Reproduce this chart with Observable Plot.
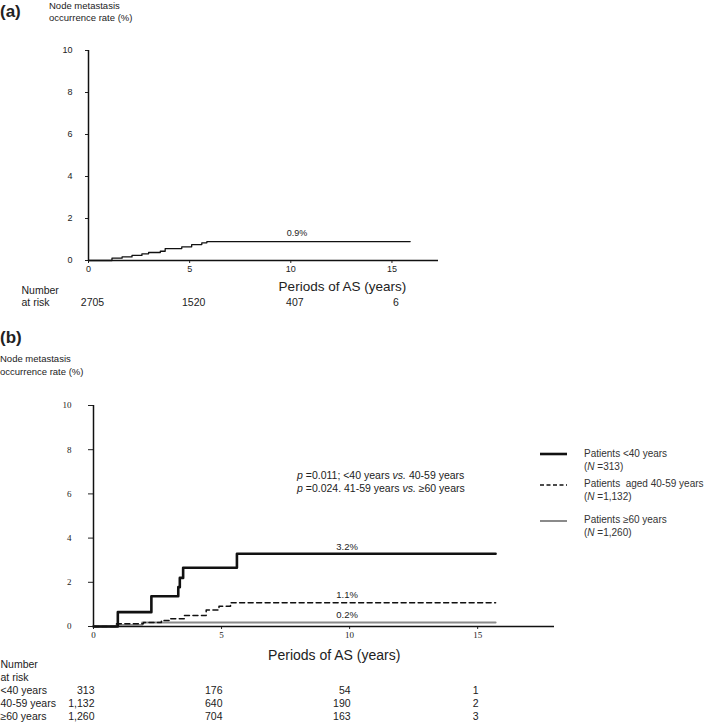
<!DOCTYPE html>
<html><head><meta charset="utf-8">
<script src="https://cdn.jsdelivr.net/npm/d3@7"></script>
<script src="https://cdn.jsdelivr.net/npm/@observablehq/plot@0.6"></script>
<style>
body{margin:0;background:#fff;font-family:Arial,"Liberation Sans",sans-serif;color:#222}
#wrap{position:relative;width:708px;height:726px;overflow:hidden;background:#fff}
.abs{position:absolute;white-space:nowrap;line-height:1}
#panelA{position:absolute;left:0;top:0}
#panelB{position:absolute;left:0;top:318px}
svg{display:block}
</style></head><body><div id="wrap">
<div id="panelA"></div>
<div id="panelB"></div>
<div class="abs" style="left:0;top:3px;font-size:17px;font-weight:bold">(a)</div>
<div class="abs" style="left:49px;top:0px;font-size:9.5px;line-height:12px">Node metastasis<br>occurrence rate (%)</div>
<div class="abs" style="left:0;top:329px;font-size:17px;font-weight:bold">(b)</div>
<div class="abs" style="left:0;top:353px;font-size:9.5px;line-height:12.5px">Node metastasis<br>occurrence rate (%)</div>
<div class="abs" style="left:297px;top:469px;font-size:10.5px;line-height:13px"><i>p</i> =0.011; &lt;40 years <i>vs.</i> 40-59 years<br><i>p</i> =0.024. 41-59 years <i>vs.</i> ≥60 years</div>
<div id="legend"></div>
</div>
<script>
// ---- Panel (a) data ----
const timeA = [0, 1.16, 1.66, 2.15, 2.64, 2.97, 3.55, 3.79, 4.61, 5.1, 5.6, 5.85, 15.9];
const rateA = [0, 0.11, 0.17, 0.24, 0.32, 0.38, 0.44, 0.57, 0.65, 0.76, 0.84, 0.9, 0.9];
const labelA = "0.9%";
const riskTicks = [0, 5, 10, 15];
const riskA = ["2705", "1520", "407", "6"];
const yTicks = [0, 2, 4, 6, 8, 10];
const xTicks = [0, 5, 10, 15];

// ---- Panel (b) data ----
const groups = ["<40 years", "40-59 years", "≥60 years"];
const time40 = [0, 0.95, 2.26, 3.31, 3.37, 3.5, 5.6, 15.7];
const rate40 = [0, 0.65, 1.37, 1.78, 2.2, 2.66, 3.29, 3.29];
const time4059 = [0, 0.9, 1.95, 2.65, 2.95, 3.55, 4.4, 4.9, 5.35, 15.7];
const rate4059 = [0, 0.12, 0.18, 0.27, 0.35, 0.5, 0.75, 0.92, 1.08, 1.08];
const time60 = [0, 0.9, 1.9, 15.7];
const rate60 = [0, 0.07, 0.18, 0.18];
const endLabels = ["3.2%", "1.1%", "0.2%"];
const risk40 = ["313", "176", "54", "1"];
const risk4059 = ["1,132", "640", "190", "2"];
const risk60 = ["1,260", "704", "163", "3"];
const legendNames = ["Patients <40 years", "Patients  aged 40-59 years", "Patients ≥60 years"];
const legendN = ["313", "1,132", "1,260"];

const sans = "Arial, 'Liberation Sans', sans-serif";
const serif = "'Liberation Serif', 'DejaVu Serif', serif";

// ---------- Panel (a) ----------
const dataA = timeA.map((t, i) => ({t, r: rateA[i]}));
const plotA = Plot.plot({
  width: 708, height: 318,
  marginLeft: 88, marginTop: 50, marginBottom: 58, marginRight: 270,
  x: {domain: [0, 17.3]},
  y: {domain: [0, 10]},
  style: {fontFamily: sans, fontSize: "9px", color: "#222", background: "#fff"},
  marks: [
    Plot.axisY({ticks: yTicks, tickSize: 3, tickPadding: 13, label: null, fontSize: 9}),
    Plot.axisX({ticks: xTicks, tickSize: 3, tickPadding: 2, label: null, fontSize: 9}),
    Plot.ruleX([0], {stroke: "#111", strokeWidth: 1.5}),
    Plot.ruleY([0], {stroke: "#111", strokeWidth: 1.5}),
    Plot.line(dataA, {x: "t", y: "r", curve: "step-after", stroke: "#111", strokeWidth: 1.3}),
    Plot.text([labelA], {x: 10.3, y: 1.3, text: d => d, fontSize: 9, fill: "#222"}),
    Plot.text(["Periods of AS (years)"], {frameAnchor: "bottom", x: 12.55, dy: 30, text: d => d, fontSize: 13.5, fill: "#222"}),
    Plot.text(["Number"], {frameAnchor: "bottom-left", dx: -67, dy: 33, text: d => d, textAnchor: "start", fontSize: 10.5, fill: "#222"}),
    Plot.text(["at risk"], {frameAnchor: "bottom-left", dx: -67, dy: 45, text: d => d, textAnchor: "start", fontSize: 10.5, fill: "#222"}),
    Plot.text(riskA, {x: (d, i) => riskTicks[i], frameAnchor: "bottom", dy: 45, dx: 4, text: d => d, fontSize: 10.5, fill: "#222"})
  ]
});
document.getElementById("panelA").appendChild(plotA);

// ---------- Panel (b) ----------
const series = [
  {times: time40, rates: rate40, stroke: "#111", width: 2.6, dash: null},
  {times: time4059, rates: rate4059, stroke: "#111", width: 1.5, dash: "5,3.5"},
  {times: time60, rates: rate60, stroke: "#8a8a8a", width: 2, dash: null}
];
const labelPos = [[9.9, 3.62], [9.9, 1.43], [9.9, 0.54]];
const riskRows = [risk40, risk4059, risk60];
const rowDy = [67, 80, 93];

const marksB = [
  Plot.axisY({ticks: yTicks, tickSize: 5, tickPadding: 17, label: null, fontSize: 9, fontFamily: serif}),
  Plot.axisX({ticks: xTicks, tickSize: 3, tickPadding: 2, label: null, fontSize: 9, fontFamily: serif}),
  Plot.ruleX([0], {stroke: "#111", strokeWidth: 1.5}),
  Plot.ruleY([0], {stroke: "#111", strokeWidth: 1.5})
];
series.slice().reverse().forEach(s => {
  const d = s.times.map((t, i) => ({t, r: s.rates[i]}));
  marksB.push(Plot.line(d, {x: "t", y: "r", curve: "step-after", stroke: s.stroke, strokeWidth: s.width, strokeDasharray: s.dash}));
});
endLabels.forEach((lab, i) => {
  marksB.push(Plot.text([lab], {x: labelPos[i][0], y: labelPos[i][1], text: d => d, fontSize: 9.5, fill: "#222"}));
});
marksB.push(Plot.text(["Periods of AS (years)"], {frameAnchor: "bottom", x: 9.4, dy: 33, text: d => d, fontSize: 14, fill: "#222"}));
marksB.push(Plot.text(["Number"], {frameAnchor: "bottom-left", dx: -93, dy: 41, text: d => d, textAnchor: "start", fontSize: 10.5, fill: "#222"}));
marksB.push(Plot.text(["at risk"], {frameAnchor: "bottom-left", dx: -93, dy: 54, text: d => d, textAnchor: "start", fontSize: 10.5, fill: "#222"}));
groups.forEach((g, i) => {
  marksB.push(Plot.text([g], {frameAnchor: "bottom-left", dx: -93, dy: rowDy[i], text: d => d, textAnchor: "start", fontSize: 10.5, fill: "#222"}));
  marksB.push(Plot.text(riskRows[i], {x: (d, j) => riskTicks[j], frameAnchor: "bottom", dy: rowDy[i], dx: 1, text: d => d, textAnchor: "end", fontSize: 10.5, fill: "#222"}));
});

const plotB = Plot.plot({
  width: 708, height: 408,
  marginLeft: 93, marginTop: 87, marginBottom: 100, marginRight: 154,
  x: {domain: [0, 18]},
  y: {domain: [0, 10]},
  style: {fontFamily: sans, fontSize: "9px", color: "#222", background: "#fff"},
  marks: marksB
});
document.getElementById("panelB").appendChild(plotB);

// ---------- Legend (b) ----------
const legendTops = [448, 478, 514];
const leg = document.getElementById("legend");
series.forEach((s, i) => {
  const item = document.createElement("div");
  item.className = "abs";
  item.style.left = "540px";
  item.style.top = legendTops[i] + "px";
  item.innerHTML =
    `<svg width="28" height="12" style="position:absolute;left:0;top:${i === 0 ? 0 : 1}px"><line x1="0" x2="27" y1="6" y2="6" stroke="${s.stroke}" stroke-width="${s.width}" ${s.dash ? `stroke-dasharray="4,2.5"` : ""}/></svg>` +
    `<div style="position:absolute;left:44px;top:0;font-size:10px;line-height:12.5px;white-space:pre;color:#333">${legendNames[i]}<br>(<i>N</i> =${legendN[i]})</div>`;
  leg.appendChild(item);
});
</script>
</body></html>
